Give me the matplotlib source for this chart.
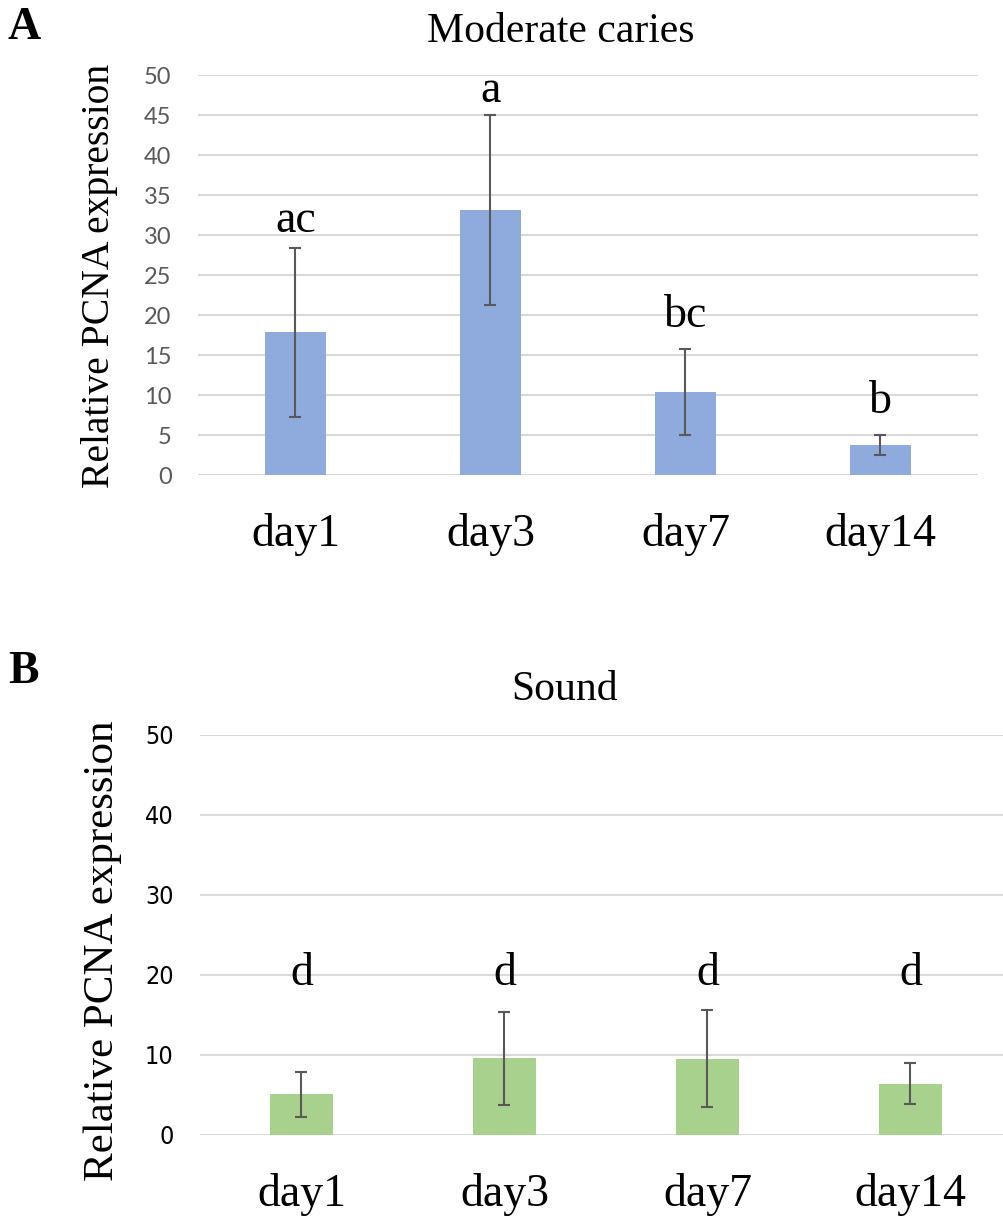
import matplotlib.pyplot as plt
import numpy as np

# data
days = ['day1', 'day3', 'day7', 'day14']

caries_mean = [17.9, 33.1, 10.4, 3.7]
caries_low = [7.3, 21.2, 5.0, 2.5]
caries_high = [28.4, 45.0, 15.8, 5.0]
caries_letters = ['ac', 'a', 'bc', 'b']
caries_letter_y = [30.4, 46.6, 18.5, 7.8]

sound_mean = [5.1, 9.6, 9.5, 6.4]
sound_low = [2.3, 3.8, 3.5, 3.9]
sound_high = [7.9, 15.4, 15.6, 9.0]
sound_letters = ['d', 'd', 'd', 'd']
sound_letter_y = [18.8, 18.8, 18.8, 18.8]

serif = 'Liberation Serif'
W, H = 1004, 1216

fig = plt.figure(figsize=(W / 100, H / 100), dpi=100)


def px_axes(left, right, top, bottom):
    return fig.add_axes([left / W, 1 - bottom / H, (right - left) / W, (bottom - top) / H])


def panel(ax, mean, low, high, letters, letter_y, color, yticks, tickfont, tickcolor, tsize, stretch):
    x = np.arange(len(days))
    mean = np.array(mean)
    yerr = [mean - np.array(low), np.array(high) - mean]
    ax.bar(x, mean, width=0.315, color=color, zorder=2)
    ax.errorbar(x, mean, yerr=yerr, fmt='none', ecolor='#595959',
                elinewidth=1.5, capsize=4.3, capthick=1.5, zorder=3)
    for xi, lab, ly in zip(x, letters, letter_y):
        ax.text(xi, ly, lab, ha='center', va='baseline', fontsize=33,
                family=serif, zorder=4)
    ax.set_xlim(-0.5, len(days) - 0.5)
    ax.set_ylim(0, 50)
    ax.set_yticks(yticks)
    ax.set_yticklabels([str(t) for t in yticks], family=tickfont,
                       fontsize=tsize, color=tickcolor, fontstretch=stretch)
    ax.grid(axis='y', color='#d9d9d9', linewidth=1.5, zorder=0)
    ax.set_axisbelow(True)
    for s in ax.spines.values():
        s.set_visible(False)
    ax.tick_params(axis='y', length=0, pad=19)
    ax.set_xticks(x)
    ax.set_xticklabels(days, family=serif, fontsize=33)
    ax.tick_params(axis='x', length=0, pad=27)


ax1 = px_axes(198, 978, 75, 475)
panel(ax1, caries_mean, caries_low, caries_high, caries_letters, caries_letter_y,
      '#8faadc', list(range(0, 51, 5)), 'Lato', '#595959', 17, 'normal')

ax2 = px_axes(200, 1012, 735, 1135)
panel(ax2, sound_mean, sound_low, sound_high, sound_letters, sound_letter_y,
      '#a9d18e', list(range(0, 51, 10)), 'DejaVu Sans', 'black', 18, 'condensed')

fig.text(561 / W, 1 - 42 / H, 'Moderate caries', ha='center', va='baseline',
         fontsize=30, family=serif)
fig.text(565 / W, 1 - 700 / H, 'Sound', ha='center', va='baseline',
         fontsize=30, family=serif)
fig.text(100 / W, 1 - 276 / H, 'Relative PCNA expression', ha='center', va='center',
         rotation=90, fontsize=28.5, family=serif)
fig.text(103 / W, 1 - 951 / H, 'Relative PCNA expression', ha='center', va='center',
         rotation=90, fontsize=31, family=serif)
fig.text(8 / W, 1 - 39 / H, 'A', ha='left', va='baseline', fontsize=33,
         family=serif, weight='bold')
fig.text(8 / W, 1 - 683 / H, 'B', ha='left', va='baseline', fontsize=33,
         family=serif, weight='bold')

fig.savefig('out.png', dpi=100)
